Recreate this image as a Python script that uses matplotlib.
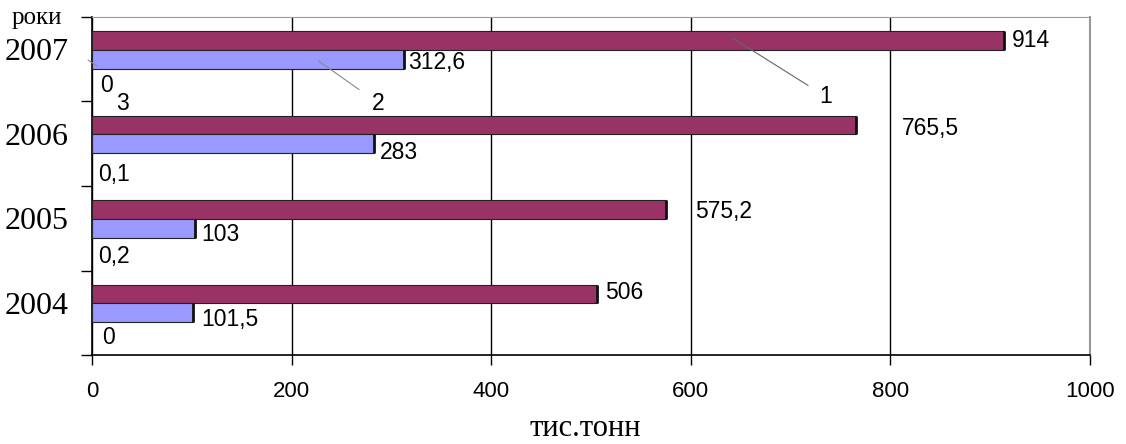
import matplotlib
matplotlib.use('Agg')
import matplotlib.pyplot as plt
import numpy as np
from matplotlib.transforms import ScaledTranslation

years = ['2004', '2005', '2006', '2007']
series1 = [506, 575.2, 765.5, 914]
series2 = [101.5, 103, 283, 312.6]
series3 = [0, 0.2, 0.1, 0]
labels1 = ['506', '575,2', '765,5', '914']
labels2 = ['101,5', '103', '283', '312,6']
labels3 = ['0', '0,2', '0,1', '0']
xticks = [0, 200, 400, 600, 800, 1000]

SERIF = 'Liberation Serif'
SANS = 'Liberation Sans'

fig = plt.figure(figsize=(11.26, 4.44), dpi=100)
ax = fig.add_axes([92/1126, 1-355/444, (1090-92)/1126, (355-17)/444])

y = np.arange(len(years))
h = 0.22
ax.barh(y + h, series1, height=h, color='#993366', edgecolor='#222222', lw=0.8, zorder=3)
ax.barh(y, series2, height=h, color='#9999FF', edgecolor='#222222', lw=0.8, zorder=3)
ax.barh(y - h, series3, height=h, color='#FFFFCC', lw=0, zorder=3)
# heavier right edges (shadow look)
ax.vlines(series1, y + h/2, y + 3*h/2, color='#111111', lw=2, zorder=4)
ax.vlines(series2, y - h/2, y + h/2, color='#111111', lw=2, zorder=4)

ax.set_xlim(0, 1000)
ax.set_ylim(-0.5, 3.5)

FS = 16.5
# value labels (offsets in pixels)
off1 = [(8, 2), (29, -2), (46, -3), (8, 0)]
off2 = [(8, -7), (6, -6), (5, -9), (4, -3)]
off3 = [(10, -6), (6, -10), (6, -12), (8, -8)]
for i in range(len(years)):
    ax.annotate(labels1[i], xy=(series1[i], y[i] + h), xytext=off1[i],
                textcoords='offset pixels', ha='left', va='center',
                fontsize=FS, family=SANS, zorder=5)
    ax.annotate(labels2[i], xy=(series2[i], y[i]), xytext=off2[i],
                textcoords='offset pixels', ha='left', va='center',
                fontsize=FS, family=SANS, zorder=5)
    ax.annotate(labels3[i], xy=(series3[i], y[i] - h), xytext=off3[i],
                textcoords='offset pixels', ha='left', va='center',
                fontsize=FS, family=SANS, zorder=5)

# series leader labels
ax.annotate('1', xy=(642, 3.25), xytext=(735, 2.56), ha='center', va='center',
            fontsize=FS, family=SANS,
            arrowprops=dict(arrowstyle='-', color='#666666', lw=0.8, shrinkA=7, shrinkB=0))
ax.annotate('2', xy=(227, 2.98), xytext=(287, 2.48), ha='center', va='center',
            fontsize=FS, family=SANS,
            arrowprops=dict(arrowstyle='-', color='#888888', lw=0.8, shrinkA=9, shrinkB=0))
ax.text(31, 2.48, '3', ha='center', va='center', fontsize=FS, family=SANS)
ax.annotate('', xy=(-4, 2.99), xytext=(5, 2.92), annotation_clip=False,
            arrowprops=dict(arrowstyle='-', color='#888888', lw=0.8, shrinkA=0, shrinkB=0))

# grid and frame
ax.set_xticks(xticks)
ax.set_xticklabels([str(t) for t in xticks], fontsize=16, family=SANS)
ax.grid(axis='x', color='black', lw=1, zorder=1)
ax.tick_params(axis='x', direction='out', length=7, width=1, pad=12, color='black')

ax.set_yticks(y)
ax.set_yticklabels(years, fontsize=23, family=SERIF)
ax.set_yticks(np.arange(-0.5, 4, 1), minor=True)
ax.tick_params(axis='y', which='major', length=0, pad=17)
ax.tick_params(axis='y', which='minor', direction='out', length=8, width=1, color='black')
for lab in ax.get_yticklabels():
    lab.set_transform(lab.get_transform() + ScaledTranslation(0, 0.1, fig.dpi_scale_trans))

ax.spines['left'].set_color('black')
ax.spines['bottom'].set_color('black')
ax.spines['left'].set_linewidth(1.2)
ax.spines['bottom'].set_linewidth(1.2)
ax.spines['top'].set_color('#999999')
ax.spines['right'].set_color('#999999')
ax.spines['right'].set_linewidth(1.5)

fig.text(37/1126, 1-18/444, 'роки', ha='center', va='center', fontsize=18, family=SERIF)
fig.text(585/1126, 1-428/444, 'тис.тонн', ha='center', va='center', fontsize=22, family=SERIF)

fig.savefig('out.png', dpi=100, facecolor='white')
